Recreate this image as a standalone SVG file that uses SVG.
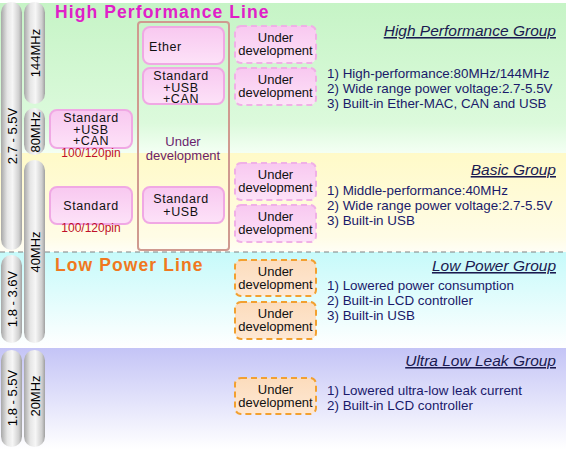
<svg xmlns="http://www.w3.org/2000/svg" width="566" height="449" viewBox="0 0 566 449">
<defs>
<linearGradient id="gGreen" x1="0" y1="0" x2="0" y2="1"><stop offset="0" stop-color="#c6f4c6"/><stop offset="0.8" stop-color="#dcfadc"/><stop offset="1" stop-color="#f4fff4"/></linearGradient>
<linearGradient id="gYellow" x1="0" y1="0" x2="0" y2="1"><stop offset="0" stop-color="#fffac8"/><stop offset="0.85" stop-color="#fffce6"/><stop offset="1" stop-color="#fffef6"/></linearGradient>
<linearGradient id="gCyan" x1="0" y1="0" x2="0" y2="1"><stop offset="0" stop-color="#c6fafa"/><stop offset="1" stop-color="#ffffff"/></linearGradient>
<linearGradient id="gLav" x1="0" y1="0" x2="0" y2="1"><stop offset="0" stop-color="#c4c4f6"/><stop offset="1" stop-color="#ffffff"/></linearGradient>
<linearGradient id="gPill" x1="0" y1="0" x2="1" y2="0"><stop offset="0" stop-color="#a8a8a8"/><stop offset="0.3" stop-color="#e6e6e6"/><stop offset="0.55" stop-color="#f6f6f6"/><stop offset="0.85" stop-color="#cfcfcf"/><stop offset="1" stop-color="#a0a0a0"/></linearGradient>
<linearGradient id="gPink" x1="0" y1="0" x2="0" y2="1"><stop offset="0" stop-color="#f8c8f0"/><stop offset="1" stop-color="#fde2f8"/></linearGradient>
<linearGradient id="gOrange" x1="0" y1="0" x2="0" y2="1"><stop offset="0" stop-color="#fcdcbc"/><stop offset="1" stop-color="#fee8d4"/></linearGradient>
</defs>
<style>
text{font-family:"Liberation Sans",Arial,sans-serif;}
.pill{fill:url(#gPill);}
.pt{font-size:13px;fill:#000;text-anchor:middle;dominant-baseline:central;}
.box{fill:url(#gPink);stroke:#f0a8e4;stroke-width:2;}
.bt{font-size:12.5px;fill:#111;text-anchor:middle;letter-spacing:0.6px;}
.pin{font-size:12px;fill:#c0102a;text-anchor:middle;}
.dp{fill:url(#gPink);stroke:#f0b0e6;stroke-width:2;stroke-dasharray:6 4;}
.do{fill:url(#gOrange);stroke:#f2a030;stroke-width:2;stroke-dasharray:6 4;}
.dt{font-size:13px;fill:#111;text-anchor:middle;}
.gt{font-size:15.5px;fill:#1a1a50;font-style:italic;text-anchor:end;text-decoration:underline;}
.li{font-size:13.4px;fill:#1a1a6a;}
.lt{font-size:17.5px;font-weight:bold;letter-spacing:1.1px;}
</style>
<g id="background">
<rect x="0" y="3" width="566" height="150" fill="url(#gGreen)"/>
<rect x="0" y="153" width="566" height="99" fill="url(#gYellow)"/>
<rect x="0" y="252" width="566" height="96" fill="url(#gCyan)"/>
<rect x="0" y="348" width="566" height="101" fill="url(#gLav)"/>
<line x1="0" y1="252" x2="566" y2="252" stroke="#808080" stroke-width="1" stroke-dasharray="5 4"/>
</g>
<g id="voltage-pills">
<rect class="pill" x="1" y="2" width="21" height="248" rx="10.5"/>
<text class="pt" transform="translate(12,136) rotate(-90)">2.7 - 5.5V</text>
<rect class="pill" x="1" y="255" width="21" height="88" rx="10.5"/>
<text class="pt" transform="translate(12,299) rotate(-90)">1.8 - 3.6V</text>
<rect class="pill" x="1" y="350" width="21" height="97" rx="10.5"/>
<text class="pt" transform="translate(12,398) rotate(-90)">1.8 - 5.5V</text>
</g>
<g id="frequency-pills">
<rect class="pill" x="24" y="2" width="21" height="102" rx="10.5"/>
<text class="pt" transform="translate(35,53) rotate(-90)">144MHz</text>
<rect class="pill" x="24" y="108" width="21" height="47" rx="10.5"/>
<text class="pt" transform="translate(35,132) rotate(-90)">80MHz</text>
<rect class="pill" x="24" y="160" width="21" height="183" rx="10.5"/>
<text class="pt" transform="translate(35,252) rotate(-90)">40MHz</text>
<rect class="pill" x="24" y="350" width="21" height="97" rx="10.5"/>
<text class="pt" transform="translate(35,396) rotate(-90)">20MHz</text>
</g>
<g id="line-titles">
<text class="lt" x="55" y="18" fill="#e020c8">High Performance Line</text>
<text class="lt" x="55" y="271" fill="#f07820">Low Power Line</text>
</g>
<g id="connectors"></g>
<g id="node-std-usb-can-100">
<rect class="box" x="50" y="110" width="82" height="38" rx="7"/>
<text class="bt" x="91" y="122">Standard</text>
<text class="bt" x="91" y="134">+USB</text>
<text class="bt" x="91" y="145">+CAN</text>
<text class="pin" x="91" y="157">100/120pin</text>
</g>
<g id="node-std-100">
<rect class="box" x="50" y="187" width="82" height="37" rx="7"/>
<text class="bt" x="91" y="210">Standard</text>
<text class="pin" x="91" y="232">100/120pin</text>
</g>
<g id="node-hp-column">
<rect x="138" y="22" width="91" height="228" rx="3" fill="none" stroke="#d09a90" stroke-width="2"/>
<text x="183" y="146" font-size="13" fill="#6a1e6e" text-anchor="middle">Under</text>
<text x="183" y="160" font-size="13" fill="#6a1e6e" text-anchor="middle">development</text>
</g>
<g id="node-ether">
<rect class="box" x="143" y="27" width="81" height="37" rx="7"/>
<text class="bt" x="149" y="51" style="text-anchor:start">Ether</text>
</g>
<g id="node-std-usb-can">
<rect class="box" x="143" y="68" width="81" height="36" rx="7"/>
<text class="bt" x="181" y="80">Standard</text>
<text class="bt" x="181" y="92">+USB</text>
<text class="bt" x="181" y="103">+CAN</text>
</g>
<g id="node-std-usb">
<rect class="box" x="143" y="187" width="81" height="36" rx="7"/>
<text class="bt" x="181" y="203">Standard</text>
<text class="bt" x="181" y="216">+USB</text>
</g>
<g id="node-hp-dev1">
<rect class="dp" x="235" y="26" width="81" height="37" rx="6"/>
<text class="dt" x="275.5" y="42">Under</text>
<text class="dt" x="275.5" y="55">development</text>
</g>
<g id="node-hp-dev2">
<rect class="dp" x="235" y="68" width="81" height="37" rx="6"/>
<text class="dt" x="275.5" y="84">Under</text>
<text class="dt" x="275.5" y="97">development</text>
</g>
<g id="node-basic-dev1">
<rect class="dp" x="235" y="163" width="81" height="37" rx="6"/>
<text class="dt" x="275.5" y="179">Under</text>
<text class="dt" x="275.5" y="192">development</text>
</g>
<g id="node-basic-dev2">
<rect class="dp" x="235" y="205" width="81" height="37" rx="6"/>
<text class="dt" x="275.5" y="221">Under</text>
<text class="dt" x="275.5" y="234">development</text>
</g>
<g id="node-lp-dev1">
<rect class="do" x="235" y="260" width="81" height="36" rx="6"/>
<text class="dt" x="275.5" y="276">Under</text>
<text class="dt" x="275.5" y="289">development</text>
</g>
<g id="node-lp-dev2">
<rect class="do" x="235" y="302" width="81" height="37" rx="6"/>
<text class="dt" x="275.5" y="318">Under</text>
<text class="dt" x="275.5" y="331">development</text>
</g>
<g id="node-ull-dev">
<rect class="do" x="235" y="378" width="81" height="36" rx="6"/>
<text class="dt" x="275.5" y="394">Under</text>
<text class="dt" x="275.5" y="407">development</text>
</g>
<g id="group-hp">
<text class="gt" x="556" y="36">High Performance Group</text>
<text class="li" x="327" y="78">1) High-performance:80MHz/144MHz</text>
<text class="li" x="327" y="93">2) Wide range power voltage:2.7-5.5V</text>
<text class="li" x="327" y="108">3) Built-in Ether-MAC, CAN and USB</text>
</g>
<g id="group-basic">
<text class="gt" x="556" y="175">Basic Group</text>
<text class="li" x="327" y="195">1) Middle-performance:40MHz</text>
<text class="li" x="327" y="210">2) Wide range power voltage:2.7-5.5V</text>
<text class="li" x="327" y="225">3) Built-in USB</text>
</g>
<g id="group-lp">
<text class="gt" x="556" y="271">Low Power Group</text>
<text class="li" x="327" y="290">1) Lowered power consumption</text>
<text class="li" x="327" y="305">2) Built-in LCD controller</text>
<text class="li" x="327" y="320">3) Built-in USB</text>
</g>
<g id="group-ull">
<text class="gt" x="556" y="366">Ultra Low Leak Group</text>
<text class="li" x="327" y="395">1) Lowered ultra-low leak current</text>
<text class="li" x="327" y="410">2) Built-in LCD controller</text>
</g>
</svg>
